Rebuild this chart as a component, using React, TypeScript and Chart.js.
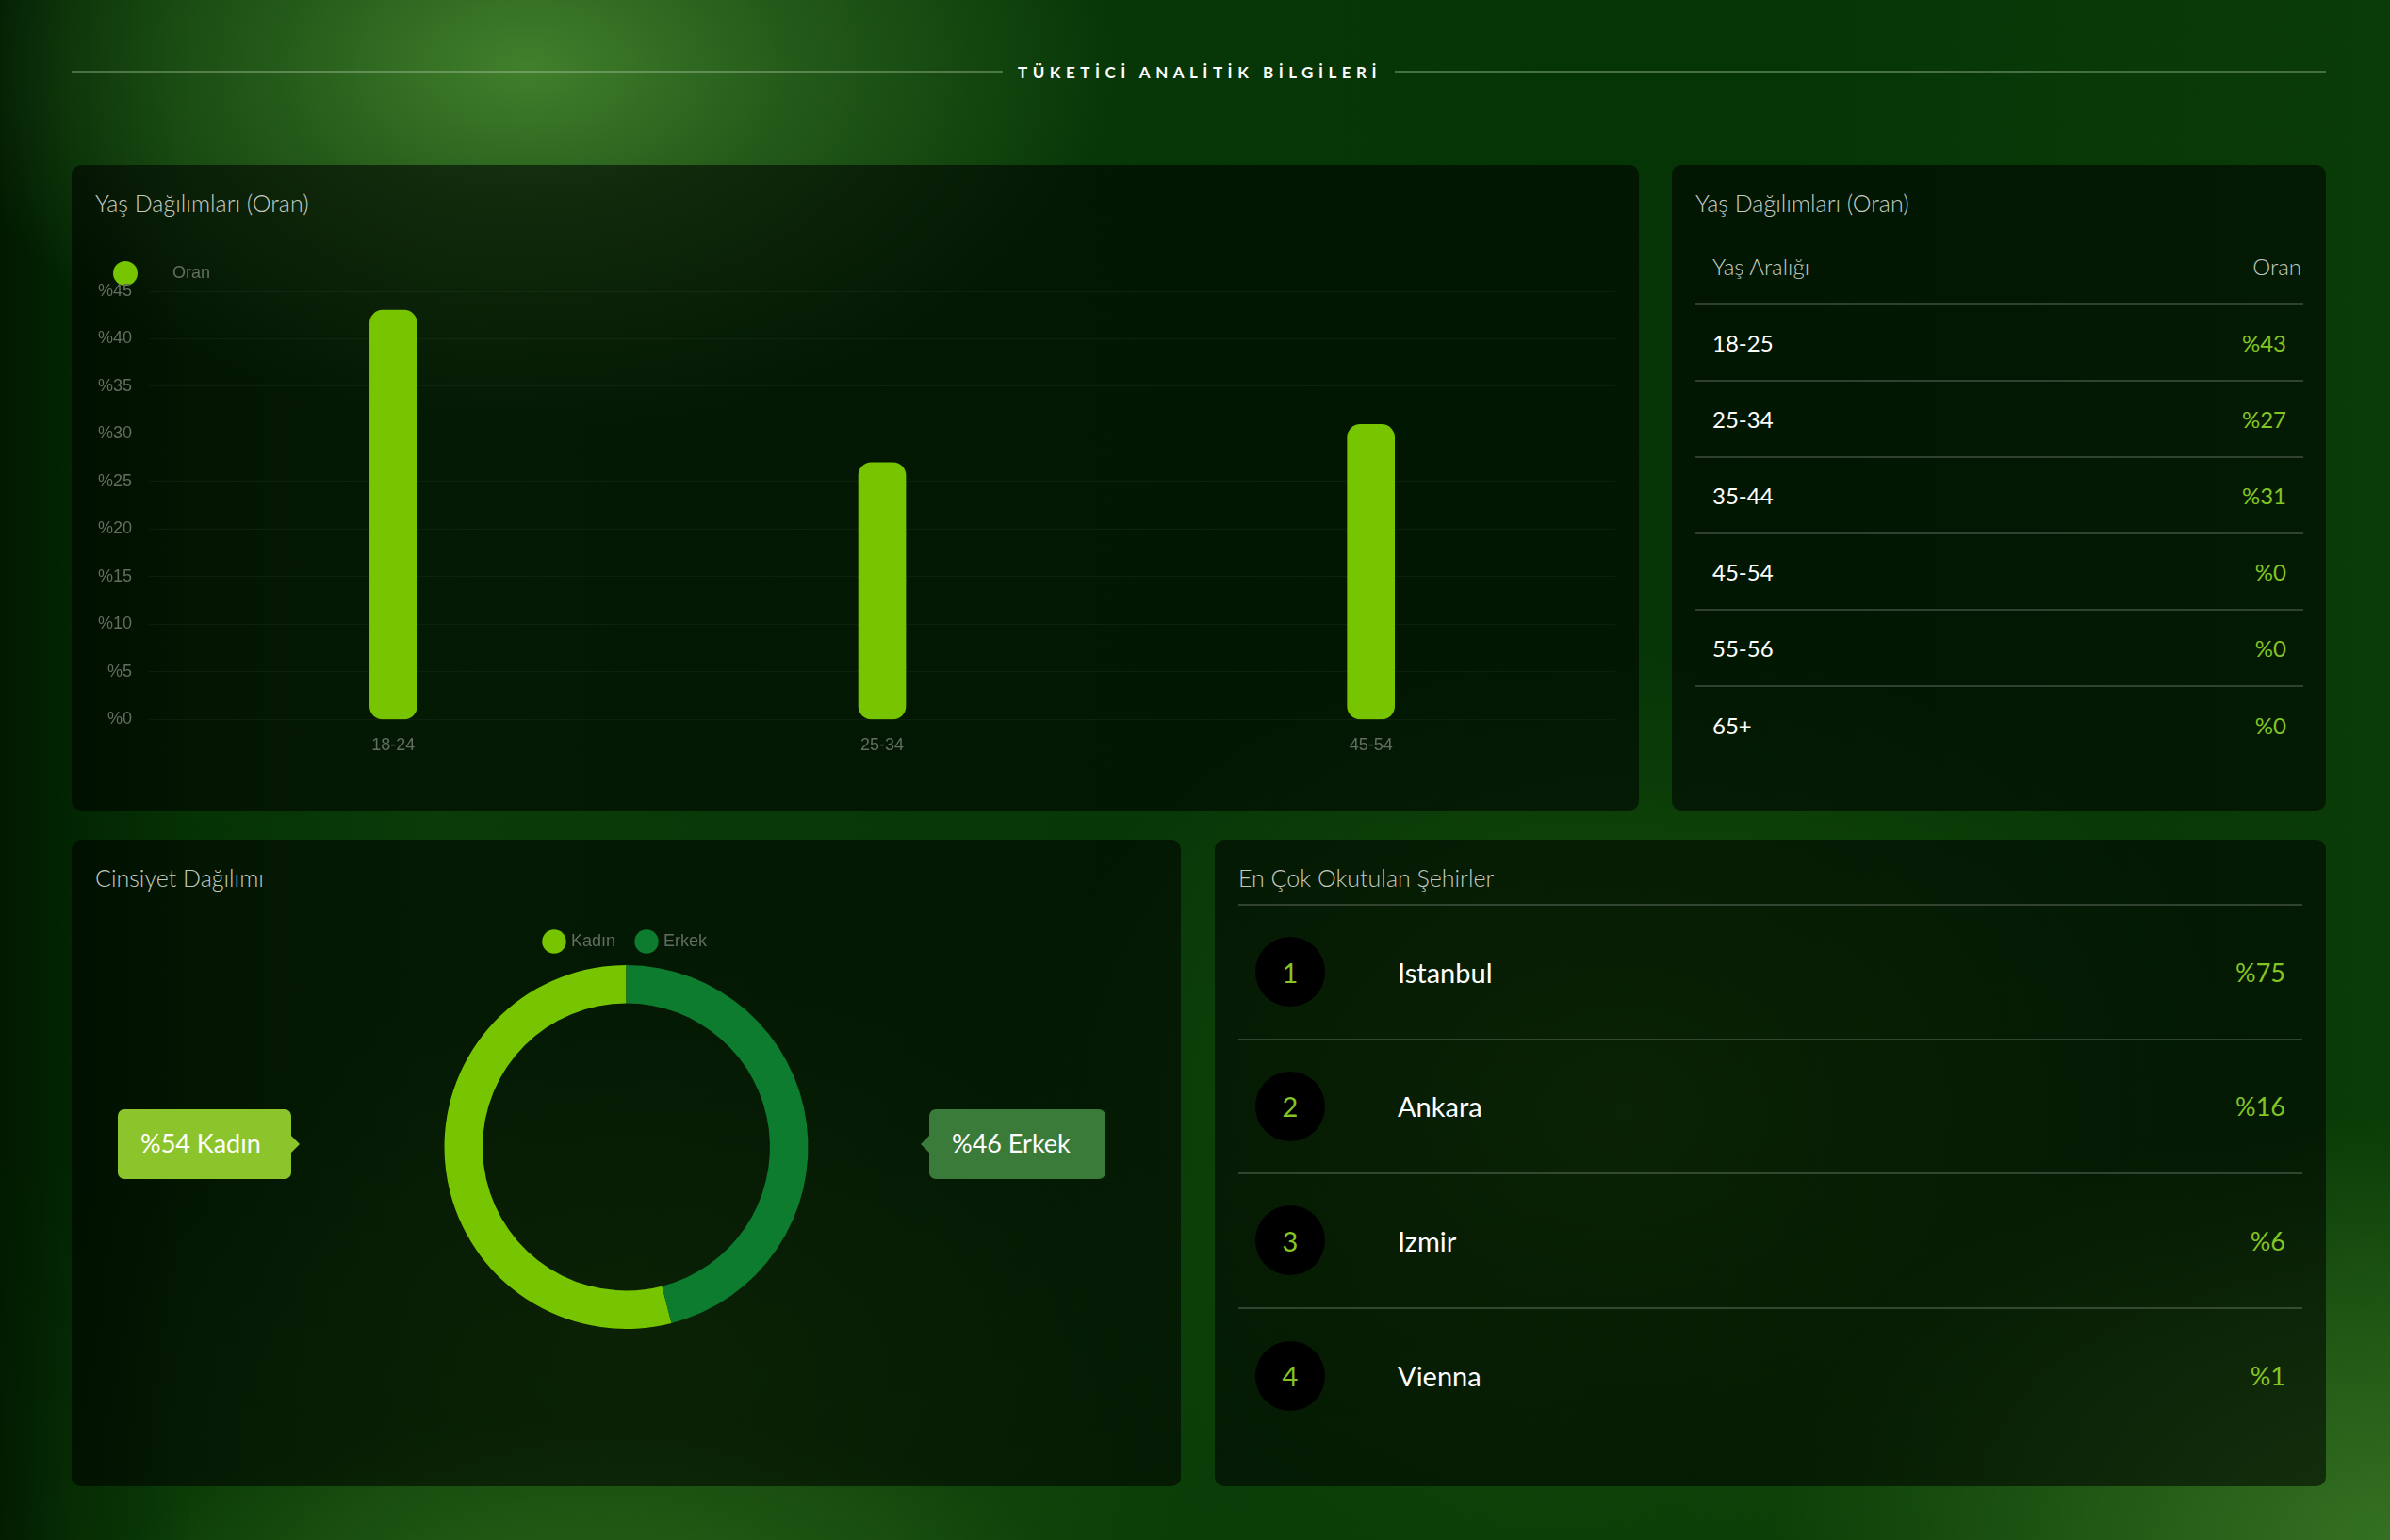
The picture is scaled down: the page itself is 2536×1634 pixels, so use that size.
import React, { useEffect, useRef } from 'react';
import { Chart, registerables } from 'chart.js';

Chart.register(...registerables);

// ---------- data ----------
const PAGE_TITLE = 'TÜKETİCİ ANALİTİK BİLGİLERİ';
const AGE_CHART_TITLE = 'Yaş Dağılımları (Oran)';
const AGE_CATEGORIES = ['18-24', '25-34', '45-54'];
const AGE_RATIOS = [43, 27, 31];
const AGE_SERIES_NAME = 'Oran';
const Y_TICKS = [0, 5, 10, 15, 20, 25, 30, 35, 40, 45];

const AGE_TABLE_TITLE = 'Yaş Dağılımları (Oran)';
const AGE_TABLE_HEADERS = ['Yaş Aralığı', 'Oran'];
const AGE_TABLE_RANGES = ['18-25', '25-34', '35-44', '45-54', '55-56', '65+'];
const AGE_TABLE_VALUES = [43, 27, 31, 0, 0, 0];

const GENDER_TITLE = 'Cinsiyet Dağılımı';
const GENDER_LABELS = ['Kadın', 'Erkek'];
const GENDER_VALUES = [54, 46];

const CITY_TITLE = 'En Çok Okutulan Şehirler';
const CITY_NAMES = ['Istanbul', 'Ankara', 'Izmir', 'Vienna'];
const CITY_VALUES = [75, 16, 6, 1];

// ---------- styles ----------
const LIME = '#76C500';
const DARK_GREEN = '#0E7C2E';
const VALUE_LIME = '#84C523';
const AXIS_TEXT = '#636d60';
const CHART_FONT = "'Liberation Sans', Arial, sans-serif";
const UI_FONT = "Lato, 'Open Sans', sans-serif";
const TITLE_COLOR = '#c3cac1';
const PANEL_BG = 'rgba(0,0,0,0.56)';
const SEP = '2px solid rgba(255,255,255,0.18)';

function AgeBarChart() {
  const ref = useRef<HTMLCanvasElement>(null);
  useEffect(() => {
    const dot = document.createElement('canvas');
    dot.width = 78;
    dot.height = 26;
    const g = dot.getContext('2d')!;
    g.fillStyle = LIME;
    g.beginPath();
    g.arc(37, 13, 13, 0, Math.PI * 2);
    g.fill();
    const chart = new Chart(ref.current!, {
      type: 'bar',
      data: {
        labels: AGE_CATEGORIES,
        datasets: [
          {
            label: AGE_SERIES_NAME,
            data: AGE_RATIOS,
            backgroundColor: LIME,
            borderRadius: 14,
            borderSkipped: false,
            barThickness: 50,
          },
        ],
      },
      options: {
        responsive: false,
        animation: false,
        events: [],
        layout: { padding: 0 },
        plugins: {
          legend: {
            position: 'top',
            align: 'start',
            labels: {
              usePointStyle: true,
              pointStyle: dot as any,
              pointStyleWidth: 78,
              color: AXIS_TEXT,
              font: { size: 18, family: CHART_FONT },
              padding: 10,
            },
          },
          tooltip: { enabled: false },
        },
        scales: {
          x: {
            grid: { display: false, drawTicks: false },
            border: { display: false },
            ticks: { color: AXIS_TEXT, font: { size: 18, family: CHART_FONT }, padding: 17 },
          },
          y: {
            min: Y_TICKS[0],
            max: Y_TICKS[Y_TICKS.length - 1],
            grid: { color: 'rgba(255,255,255,0.045)', drawTicks: false },
            border: { display: false },
            ticks: {
              stepSize: Y_TICKS[1] - Y_TICKS[0],
              color: AXIS_TEXT,
              font: { size: 18, family: CHART_FONT },
              padding: 18,
              callback: (v: any) => '%' + v,
            },
          },
        },
      },
    });
    return () => chart.destroy();
  }, []);
  return (
    <canvas
      ref={ref}
      width={1628}
      height={548}
      style={{ position: 'absolute', left: 10, top: 96, width: 1628, height: 548 }}
    />
  );
}

function GenderDonut() {
  const ref = useRef<HTMLCanvasElement>(null);
  useEffect(() => {
    const total = GENDER_VALUES.reduce((a, b) => a + b, 0);
    const chart = new Chart(ref.current!, {
      type: 'doughnut',
      data: {
        labels: GENDER_LABELS,
        datasets: [
          {
            data: GENDER_VALUES,
            backgroundColor: [LIME, DARK_GREEN],
            borderWidth: 0,
            hoverOffset: 0,
          },
        ],
      },
      options: {
        responsive: false,
        animation: false,
        events: [],
        radius: 193,
        cutout: '79%',
        rotation: (360 * GENDER_VALUES[1]) / total,
        plugins: {
          legend: {
            position: 'top',
            labels: {
              usePointStyle: true,
              pointStyle: 'circle',
              color: AXIS_TEXT,
              font: { size: 18, family: CHART_FONT },
              padding: 24,
            },
          },
          tooltip: { enabled: false },
        },
      } as any,
    });
    return () => chart.destroy();
  }, []);
  return (
    <canvas
      ref={ref}
      width={1127}
      height={450}
      style={{ position: 'absolute', left: 25, top: 75, width: 1127, height: 450 }}
    />
  );
}

const panelTitle: React.CSSProperties = {
  position: 'absolute',
  left: 25,
  top: 25,
  fontSize: 25,
  fontWeight: 300,
  lineHeight: '30px',
  color: TITLE_COLOR,
  fontFamily: UI_FONT,
  whiteSpace: 'nowrap',
};

function Panel(props: { x: number; y: number; w: number; h: number; children: any }) {
  return (
    <div
      style={{
        position: 'absolute',
        left: props.x,
        top: props.y,
        width: props.w,
        height: props.h,
        background: PANEL_BG,
        borderRadius: 10,
        overflow: 'hidden',
      }}
    >
      {props.children}
    </div>
  );
}

function Callout(props: { text: string; bg: string; x: number; w: number; arrow: 'left' | 'right' }) {
  const arrowStyle: React.CSSProperties =
    props.arrow === 'right'
      ? {
          position: 'absolute',
          right: -9,
          top: 28,
          width: 0,
          height: 0,
          borderTop: '9px solid transparent',
          borderBottom: '9px solid transparent',
          borderLeft: '9px solid ' + props.bg,
        }
      : {
          position: 'absolute',
          left: -9,
          top: 28,
          width: 0,
          height: 0,
          borderTop: '9px solid transparent',
          borderBottom: '9px solid transparent',
          borderRight: '9px solid ' + props.bg,
        };
  return (
    <div
      style={{
        position: 'absolute',
        left: props.x,
        top: 286,
        width: props.w,
        height: 74,
        background: props.bg,
        borderRadius: 7,
        color: '#ffffff',
        fontFamily: UI_FONT,
        fontSize: 27,
        lineHeight: '72px',
        paddingLeft: 24,
        boxSizing: 'border-box',
        whiteSpace: 'nowrap',
      }}
    >
      {props.text}
      <div style={arrowStyle} />
    </div>
  );
}

export default function App() {
  const bg = [
    'radial-gradient(ellipse 620px 380px at 560px 70px, rgba(72,135,48,0.9) 0%, rgba(58,118,40,0.55) 45%, rgba(30,80,20,0) 100%)',
    'linear-gradient(90deg, rgba(0,18,0,0.7) 0%, rgba(0,10,0,0.25) 3%, rgba(0,0,0,0) 8%)',
    'radial-gradient(ellipse 520px 200px at 620px 1700px, rgba(45,105,28,0.75) 0%, rgba(30,80,18,0) 100%)',
    'radial-gradient(ellipse 650px 450px at 2536px 1634px, rgba(55,115,35,0.95) 0%, rgba(30,80,18,0) 100%)',
    'radial-gradient(ellipse 650px 520px at 1720px 1180px, rgba(40,100,20,0.55) 0%, rgba(30,80,18,0) 100%)',
    'radial-gradient(ellipse 600px 420px at 700px 1450px, rgba(40,95,22,0.5) 0%, rgba(30,80,18,0) 100%)',
    'linear-gradient(180deg, rgba(0,0,0,0) 75%, rgba(22,80,10,0.3) 100%)',
    'linear-gradient(90deg, #022c02 0%, #0a3b08 18%, #073707 45%, #053405 70%, #0a3c07 100%)',
  ].join(',');

  return (
    <div
      style={{
        position: 'absolute',
        left: 0,
        top: 0,
        width: 2536,
        height: 1634,
        overflow: 'hidden',
        background: bg,
        fontFamily: UI_FONT,
      }}
    >
      {/* Header */}
      <div
        style={{
          position: 'absolute',
          left: 76,
          top: 63,
          width: 2392,
          height: 26,
          display: 'flex',
          alignItems: 'center',
        }}
      >
        <div style={{ flex: 1, height: 2, background: 'rgba(190,215,180,0.35)' }} />
        <div
          style={{
            margin: '0 14px 0 16px',
            color: '#ffffff',
            fontFamily: UI_FONT,
            fontWeight: 700,
            fontSize: 17,
            letterSpacing: 5.5,
            whiteSpace: 'nowrap',
          }}
        >
          {PAGE_TITLE}
        </div>
        <div style={{ flex: 1, height: 2, background: 'rgba(190,215,180,0.35)' }} />
      </div>

      {/* Age bar chart */}
      <Panel x={76} y={175} w={1663} h={685}>
        <div style={panelTitle}>{AGE_CHART_TITLE}</div>
        <AgeBarChart />
      </Panel>

      {/* Age table */}
      <Panel x={1774} y={175} w={694} h={685}>
        <div style={panelTitle}>{AGE_TABLE_TITLE}</div>
        <div style={{ position: 'absolute', left: 25, top: 68, width: 645 }}>
          <div
            style={{
              height: 81,
              boxSizing: 'border-box',
              borderBottom: SEP,
              display: 'flex',
              alignItems: 'center',
              justifyContent: 'space-between',
              padding: '0 2px 0 18px',
              color: TITLE_COLOR,
              fontWeight: 300,
              fontSize: 24,
            }}
          >
            <span>{AGE_TABLE_HEADERS[0]}</span>
            <span>{AGE_TABLE_HEADERS[1]}</span>
          </div>
          {AGE_TABLE_RANGES.map((r, i) => (
            <div
              key={r}
              style={{
                height: 81,
                boxSizing: 'border-box',
                borderBottom: i < AGE_TABLE_RANGES.length - 1 ? SEP : 'none',
                display: 'flex',
                alignItems: 'center',
                justifyContent: 'space-between',
                padding: '0 18px 0 18px',
                fontSize: 24,
              }}
            >
              <span style={{ color: '#ffffff' }}>{r}</span>
              <span style={{ color: VALUE_LIME }}>{'%' + AGE_TABLE_VALUES[i]}</span>
            </div>
          ))}
        </div>
      </Panel>

      {/* Gender donut */}
      <Panel x={76} y={891} w={1177} h={686}>
        <div style={panelTitle}>{GENDER_TITLE}</div>
        <GenderDonut />
        <Callout text={'%' + GENDER_VALUES[0] + ' ' + GENDER_LABELS[0]} bg="#8CC52B" x={49} w={184} arrow="right" />
        <Callout text={'%' + GENDER_VALUES[1] + ' ' + GENDER_LABELS[1]} bg="#3A7B3A" x={910} w={187} arrow="left" />
      </Panel>

      {/* Cities */}
      <Panel x={1289} y={891} w={1179} h={686}>
        <div style={panelTitle}>{CITY_TITLE}</div>
        <div style={{ position: 'absolute', left: 25, top: 68, width: 1129, borderTop: SEP }}>
          {CITY_NAMES.map((c, i) => (
            <div
              key={c}
              style={{
                height: 142.5,
                boxSizing: 'border-box',
                borderBottom: i < CITY_NAMES.length - 1 ? SEP : 'none',
                display: 'flex',
                alignItems: 'center',
                padding: '0 18px',
              }}
            >
              <div
                style={{
                  width: 74,
                  height: 74,
                  borderRadius: '50%',
                  background: '#000000',
                  color: VALUE_LIME,
                  fontSize: 29,
                  display: 'flex',
                  alignItems: 'center',
                  justifyContent: 'center',
                  flex: '0 0 auto',
                }}
              >
                {i + 1}
              </div>
              <div style={{ marginLeft: 77, color: '#ffffff', fontSize: 29, flex: 1 }}>{c}</div>
              <div style={{ color: VALUE_LIME, fontSize: 27 }}>{'%' + CITY_VALUES[i]}</div>
            </div>
          ))}
        </div>
      </Panel>
    </div>
  );
}
